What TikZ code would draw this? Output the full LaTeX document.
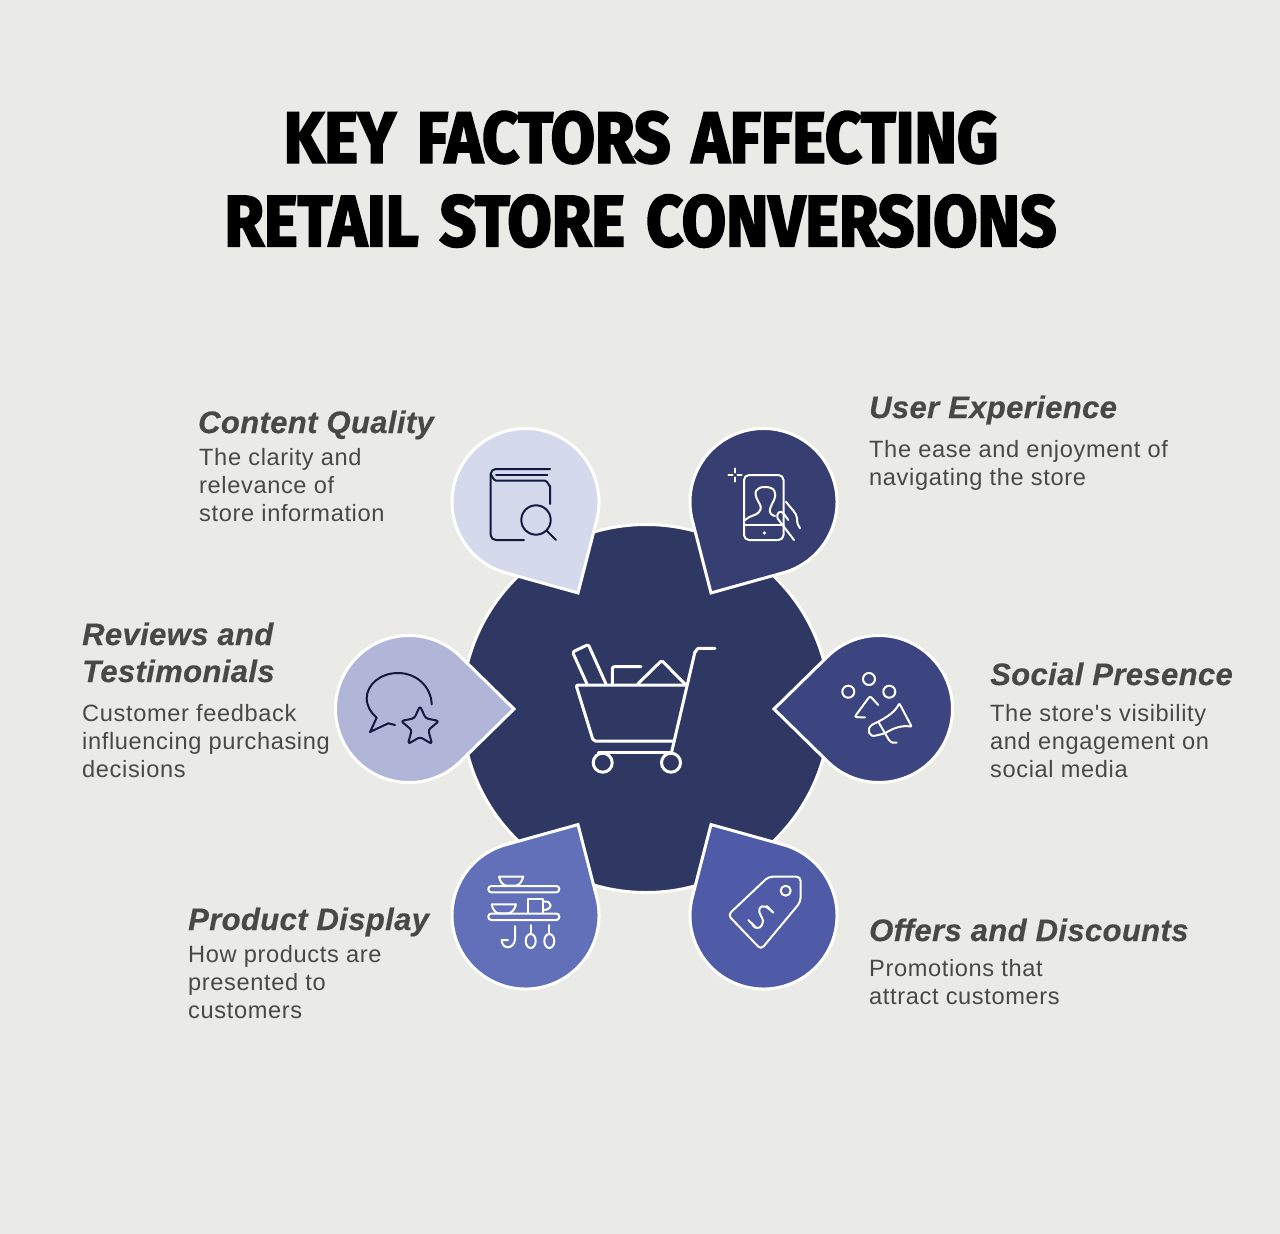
\documentclass[tikz,border=0pt]{standalone}
\usepackage{fontspec}
\usepackage{graphicx}
\setmainfont{Liberation Sans}
\newfontfamily\titleFont{Fira Sans}[FakeBold=3,WordSpace=1.4]
\newfontfamily\headFont{Liberation Sans}[LetterSpace=1.2,FakeBold=0.4]
\newfontfamily\bodyFont{Liberation Sans}[LetterSpace=2.7]
\definecolor{paperBg}{HTML}{EAEBE6}
\definecolor{hubFill}{HTML}{2F3763}
\definecolor{inkDark}{HTML}{111A3E}
\definecolor{textGrey}{HTML}{484846}
\definecolor{contentFill}{HTML}{D5D9EC}
\definecolor{userFill}{HTML}{373F72}
\definecolor{socialFill}{HTML}{3D4581}
\definecolor{offersFill}{HTML}{4F5BA7}
\definecolor{productFill}{HTML}{6170B8}
\definecolor{reviewsFill}{HTML}{B1B6D9}
\newcommand{\dropRadius}{73.5}
\newcommand{\dropTip}{105}
\newcommand{\titleLine}[1]{\scalebox{.89}[1]{#1}}
\tikzset{
  titleText/.style={anchor=base,inner sep=0pt,text=black,font=\titleFont\bfseries\fontsize{72}{72}\selectfont},
  headText/.style={anchor=base west,inner sep=0pt,text=textGrey,font=\headFont\bfseries\itshape\fontsize{31}{37}\selectfont},
  bodyText/.style={anchor=north west,inner sep=0pt,align=left,text=textGrey,font=\bodyFont\fontsize{23.6}{28}\selectfont},
  iconWhite/.style={draw=white,line width=2pt,line cap=round,line join=round},
  iconDark/.style={draw=inkDark,line width=2pt,line cap=round,line join=round},
  cartLine/.style={iconWhite,line width=3pt},
}
\begin{document}
\begin{tikzpicture}[x=1pt,y=-1pt]
\fill[paperBg] (0,0) rectangle (1280,1234);
\useasboundingbox (0,0) rectangle (1280,1234);

\node (titleOne) [titleText] at (641,162.5) {\titleLine{KEY FACTORS AFFECTING}};
\node (titleTwo) [titleText] at (640.5,246) {\titleLine{RETAIL STORE CONVERSIONS}};

\node (hub) [circle,fill=hubFill,draw=white,line width=3pt,minimum size=368pt,inner sep=0pt] at (646,708.5) {};

\foreach \dropName/\cx/\cy/\ang/\col in {content/525.5/502/-60/contentFill,user/763.5/502/-120/userFill,
  social/879/709/180/socialFill,offers/763.5/915.5/120/offersFill,product/525.5/915.5/60/productFill,reviews/409/709/0/reviewsFill}{
  \draw[fill=\col,draw=white,line width=3pt,shift={(\cx,\cy)},rotate=\ang]
    (\dropTip,0) -- (45:\dropRadius) arc[start angle=45,end angle=315,radius=\dropRadius] -- cycle;
}

% cart
\draw[cartLine] (715,648.3) -- (698.5,648.3) to[out=180,in=-78] (695,651.7) -- (671.7,751.7);
\draw[cartLine,rounded corners=2pt] (685,685) -- (576,685) -- (593.3,741) -- (674.3,741);
\draw[cartLine] (598.3,752.7) -- (671.7,752.7);
\draw[cartLine] (602.7,762.7) circle (9.5);
\draw[cartLine] (671,762.7) circle (9.5);
\draw[cartLine,rounded corners=2pt] (606,684) -- (588.3,644.5) -- (572.5,652) -- (587,684);
\draw[cartLine,rounded corners=2pt] (612.3,684) -- (612.3,666.7) -- (641,666.7);
\draw[cartLine,rounded corners=1.5pt] (637.7,684) -- (661.7,660.5) -- (685,684);

% book
\draw[iconDark,rounded corners=5pt] (550,469) -- (490.7,469) -- (490.7,540) -- (524,540);
\draw[iconDark] (547.3,475) -- (496,475);
\draw[iconDark] (490.7,475) to[out=90,in=180] (496,480.7) -- (545,480.7) to[out=0,in=-90] (550,485.7) -- (550,504);
\draw[iconDark] (536,520) circle (14.7);
\draw[iconDark] (546.7,530.7) -- (556,540);

% phone
\draw[iconWhite,rounded corners=5pt] (744,475) rectangle (783.5,540);
\draw[iconWhite] (744,525) -- (783.5,525);
\fill[white] (764.3,533) circle (1.8);
\draw[iconWhite,line width=1.6pt] (728.3,475) -- (732.7,475) (737.3,475) -- (741.7,475) (735,468.3) -- (735,472.7) (735,477.3) -- (735,481.7);
\draw[iconWhite] (745,520) .. controls (750,515) and (756,516) .. (759,512) .. controls (762,508) and (761,506) .. (758,501)
  .. controls (753,492) and (756,487) .. (765,487) .. controls (775,487) and (777,493) .. (774,500)
  .. controls (771,506) and (768,511) .. (771,514) .. controls (773,516) and (775,516) .. (775,516);
\draw[iconWhite] (786,501.7) .. controls (792,510) and (796,512) .. (797,518) .. controls (797,523) and (798,526) .. (800,528.3);
\draw[iconWhite] (794,540) -- (778,519) .. controls (775,513) and (781,509) .. (784,514) -- (788.3,520);

% chat
\draw[iconDark] (431.7,704.3) .. controls (431,686) and (416,673) .. (398,673) .. controls (380,673) and (366.7,685) .. (366.7,698.3)
  .. controls (366.7,706) and (371,713) .. (376.7,717.7) -- (370,732) -- (388.3,723.3) -- (395,725);
\draw[iconDark,rounded corners=2.5pt] (420,706) -- (425.7,718.3) -- (439,721) -- (428.3,730) -- (432,744) -- (420,737) -- (408,744) -- (411.7,730) -- (401,721) -- (414.3,718.3) -- cycle;

% megaphone
\draw[iconWhite] (869,679) circle (6);
\draw[iconWhite] (848.3,691.7) circle (6);
\draw[iconWhite] (889.3,691.7) circle (6);
\draw[iconWhite,rounded corners=2pt] (878.3,705) -- (870,696) -- (854.5,717) -- (865,717.5);
\draw[iconWhite,rounded corners=1pt] (878.3,721.7) .. controls (887,717) and (895,712) .. (899.3,703.3) -- (911.7,726.7) .. controls (902,725) and (893,728) .. (885,733.3);
\draw[iconWhite] (878.3,721.7) -- (871.7,725) .. controls (866,729) and (869,738) .. (876,735.5) -- (885,733.3) -- (878.3,721.7);
\draw[iconWhite] (885,733.3) -- (889,740) .. controls (891,743) and (894,743) .. (896.7,742.7);

% shelves
\draw[iconWhite,rounded corners=3pt] (488.3,886) rectangle (559.3,892.3);
\draw[iconWhite,rounded corners=3pt] (488.3,913.5) rectangle (559.3,920);
\draw[iconWhite] (499,876.7) -- (523.3,876.7) .. controls (522,881) and (520,885) .. (516,885.5) -- (506,885.5) .. controls (502,885) and (500,881) .. (499,876.7);
\draw[iconWhite] (491.7,904.3) -- (516,904.3) .. controls (515,909) and (512,913) .. (508,913.3) -- (499,913.3) .. controls (495,913) and (492.5,909) .. (491.7,904.3);
\draw[iconWhite] (527.7,913) -- (527.7,899) -- (543.3,899) -- (543.3,913);
\draw[iconWhite] (543.3,901.7) .. controls (553,900) and (553,910) .. (543.3,910);
\draw[iconWhite] (515,926) -- (515,939) .. controls (515,944) and (511,947.3) .. (508,947.3) .. controls (504,947.3) and (501.7,944) .. (501.7,940) -- (508,940);
\draw[iconWhite] (530.7,925) -- (530.7,934);
\draw[iconWhite] (530.7,941) ellipse (5 and 7);
\draw[iconWhite] (549.3,925) -- (549.3,934);
\draw[iconWhite] (549.3,941) ellipse (5 and 7);

% tag
\draw[iconWhite,rounded corners=4pt] (768.5,876.7) -- (800.5,876.7) -- (800.5,902) -- (761,949.5) -- (728,915) -- cycle;
\draw[iconWhite] (785.7,890.7) circle (5);
\draw[iconWhite] (748.3,920) -- (755.7,927.3);
\draw[iconWhite] (766.7,906) -- (773.3,912.7);
\draw[iconWhite] (769.3,909.3) .. controls (764,904) and (758,906) .. (759.3,912) .. controls (760.5,917) and (765,919) .. (762,925) .. controls (760,929) and (755,929) .. (752.5,925);

% labels
\node (contentHead) [headText] at (198,433) {Content Quality};
\node (contentBody) [bodyText] at (199,445.4) {\strut The clarity and\\relevance of\\store information};
\node (userHead) [headText] at (869,418) {User Experience};
\node (userBody) [bodyText] at (869,437.4) {\strut The ease and enjoyment of\\navigating the store};
\node (reviewsHead) [headText] at (82,645) {Reviews and};
\node (reviewsHeadTwo) [headText] at (82,682) {Testimonials};
\node (reviewsBody) [bodyText] at (82,701.4) {\strut Customer feedback\\influencing purchasing\\decisions};
\node (socialHead) [headText] at (990,685) {Social Presence};
\node (socialBody) [bodyText] at (990,701.4) {\strut The store's visibility\\and engagement on\\social media};
\node (productHead) [headText] at (188,930) {Product Display};
\node (productBody) [bodyText] at (188,942.4) {\strut How products are\\presented to\\customers};
\node (offersHead) [headText] at (869,941) {Offers and Discounts};
\node (offersBody) [bodyText] at (869,956.4) {\strut Promotions that\\attract customers};
\end{tikzpicture}
\end{document}
